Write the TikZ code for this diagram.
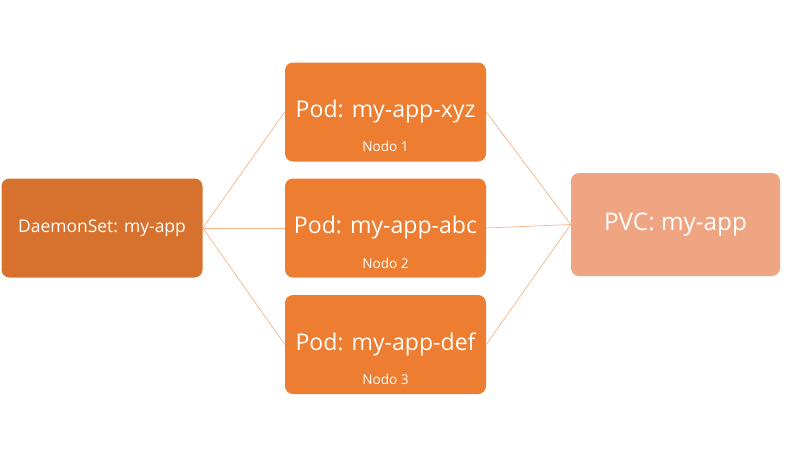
\documentclass[tikz,border=0pt]{standalone}
\usepackage{fontspec}
\setmainfont{Open Sans}
\usetikzlibrary{positioning}

\definecolor{dsorange}{HTML}{D6722D}
\definecolor{podorange}{HTML}{ED7D31}
\definecolor{pvcorange}{HTML}{F0A582}
\definecolor{linkorange}{HTML}{F4B183}

\begin{document}
\begin{tikzpicture}[x=0.75pt,y=-0.75pt,
    box/.style={rounded corners=6pt,text=white,inner sep=0pt,
      minimum width=150.75pt,minimum height=74.25pt},
    link/.style={draw=linkorange,line width=0.5pt}]
  \useasboundingbox (0,0) rectangle (800,450);
  % nodi
  \node[box,fill=dsorange,font=\fontsize{13.1}{15}\selectfont] (ds) at (102,228) {DaemonSet: my-app};
  \node[box,fill=podorange,font=\fontsize{17.3}{19}\selectfont] (pod1) at (385.5,112) {Pod: my-app-xyz};
  \node[box,fill=podorange,font=\fontsize{17.3}{19}\selectfont] (pod2) at (385.5,228) {Pod: my-app-abc};
  \node[box,fill=podorange,font=\fontsize{17.3}{19}\selectfont] (pod3) at (385.5,344.5) {Pod: my-app-def};
  \node[box,fill=pvcorange,minimum width=156.75pt,minimum height=77.25pt,font=\fontsize{18.2}{20}\selectfont] (pvc) at (675.5,224.5) {PVC: my-app};
  \node[text=white,font=\fontsize{10.2}{12}\selectfont] (n1) at (385.5,146) {Nodo 1};
  \node[text=white,font=\fontsize{10.2}{12}\selectfont] (n2) at (385.5,263) {Nodo 2};
  \node[text=white,font=\fontsize{10.2}{12}\selectfont] (n3) at (385.5,379) {Nodo 3};
  % collegamenti
  \draw[link] (ds.east) -- (pod1.west);
  \draw[link] (ds.east) -- (pod2.west);
  \draw[link] (ds.east) -- (pod3.west);
  \draw[link] (pod1.east) -- (pvc.west);
  \draw[link] (pod2.east) -- (pvc.west);
  \draw[link] (pod3.east) -- (pvc.west);
\end{tikzpicture}
\end{document}
